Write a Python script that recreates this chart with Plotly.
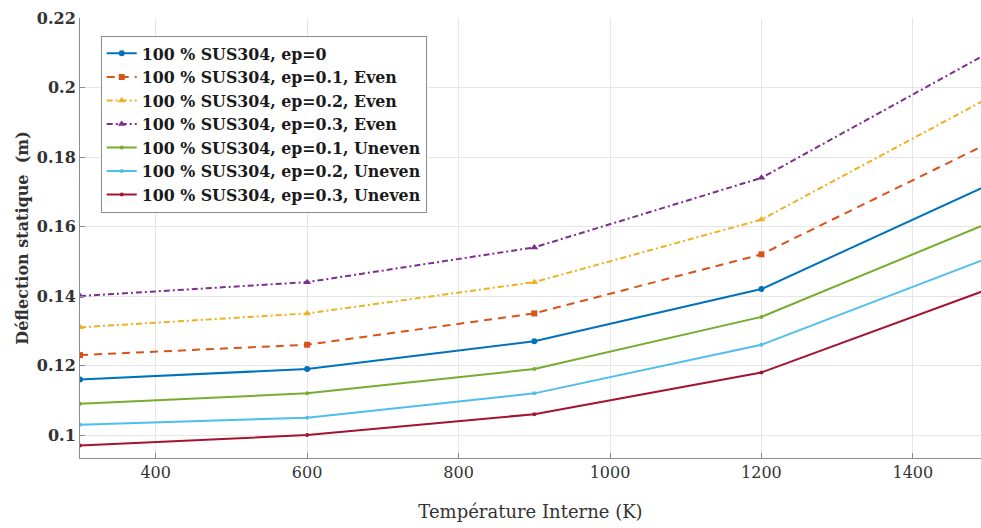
import plotly.graph_objects as go

temps = [300, 600, 900, 1200, 1500]
names = [
    "100 % SUS304, ep=0",
    "100 % SUS304, ep=0.1, Even",
    "100 % SUS304, ep=0.2, Even",
    "100 % SUS304, ep=0.3, Even",
    "100 % SUS304, ep=0.1, Uneven",
    "100 % SUS304, ep=0.2, Uneven",
    "100 % SUS304, ep=0.3, Uneven",
]
ep0 = [0.116, 0.119, 0.127, 0.142, 0.172]
ep01_even = [0.123, 0.126, 0.135, 0.152, 0.184]
ep02_even = [0.131, 0.135, 0.144, 0.162, 0.197]
ep03_even = [0.140, 0.144, 0.154, 0.174, 0.210]
ep01_uneven = [0.109, 0.112, 0.119, 0.134, 0.161]
ep02_uneven = [0.103, 0.105, 0.112, 0.126, 0.151]
ep03_uneven = [0.097, 0.100, 0.106, 0.118, 0.142]
series = [ep0, ep01_even, ep02_even, ep03_even, ep01_uneven, ep02_uneven, ep03_uneven]

colors = ["#0072BD", "#D95319", "#EDB120", "#7E2F8E", "#77AC30", "#4DBEEE", "#A2142F"]
dashes = ["solid", "8px,6px", "6px,3px,2px,3px", "6px,3px,2px,3px", "solid", "solid", "solid"]
symbols = ["circle", "square", "triangle-up", "triangle-up", "circle", "circle", "circle"]
sizes = [6, 6, 7, 7, 4, 4, 4]

serif = "DejaVu Serif"

fig = go.Figure()
for n, ys, c, d, s, sz in zip(names, series, colors, dashes, symbols, sizes):
    fig.add_trace(go.Scatter(
        x=temps, y=ys, name=n, mode="lines+markers",
        line=dict(color=c, width=2, dash=d),
        marker=dict(symbol=s, size=sz, color=c),
    ))

fig.update_layout(
    width=981, height=528,
    margin=dict(l=80, r=0, t=18, b=70),
    paper_bgcolor="white", plot_bgcolor="white",
    font=dict(family=serif, color="#262626"),
    legend=dict(
        x=0.023, y=0.96, xanchor="left", yanchor="top",
        bgcolor="white", bordercolor="#8c8c8c", borderwidth=1,
        font=dict(family=serif, size=15.8, color="#1a1a1a", weight="bold"),
        itemwidth=30, tracegroupgap=0,
    ),
    showlegend=True,
)
fig.update_xaxes(
    range=[300, 1490], tickvals=[400, 600, 800, 1000, 1200, 1400],
    showgrid=True, gridcolor="#e6e6e6", gridwidth=1,
    showline=True, linecolor="#8c8c8c", linewidth=1,
    ticks="inside", ticklen=5, tickcolor="#8c8c8c",
    tickfont=dict(family=serif, size=16, color="#333333"),
    title=dict(text="Température Interne (K)", font=dict(family=serif, size=18, color="#333333"), standoff=24),
    zeroline=False,
)
fig.update_yaxes(
    range=[0.0934, 0.22], tickvals=[0.1, 0.12, 0.14, 0.16, 0.18, 0.2, 0.22],
    ticktext=["0.1", "0.12", "0.14", "0.16", "0.18", "0.2", "0.22"],
    showgrid=True, gridcolor="#e6e6e6", gridwidth=1,
    showline=True, linecolor="#8c8c8c", linewidth=1,
    ticks="inside", ticklen=5, tickcolor="#8c8c8c",
    tickfont=dict(family=serif, size=16, color="#333333", weight="bold"),
    title=dict(text="Déflection statique  (m)", font=dict(family=serif, size=16, color="#333333", weight="bold"), standoff=4),
    zeroline=False,
)

fig.write_html("out.html")
